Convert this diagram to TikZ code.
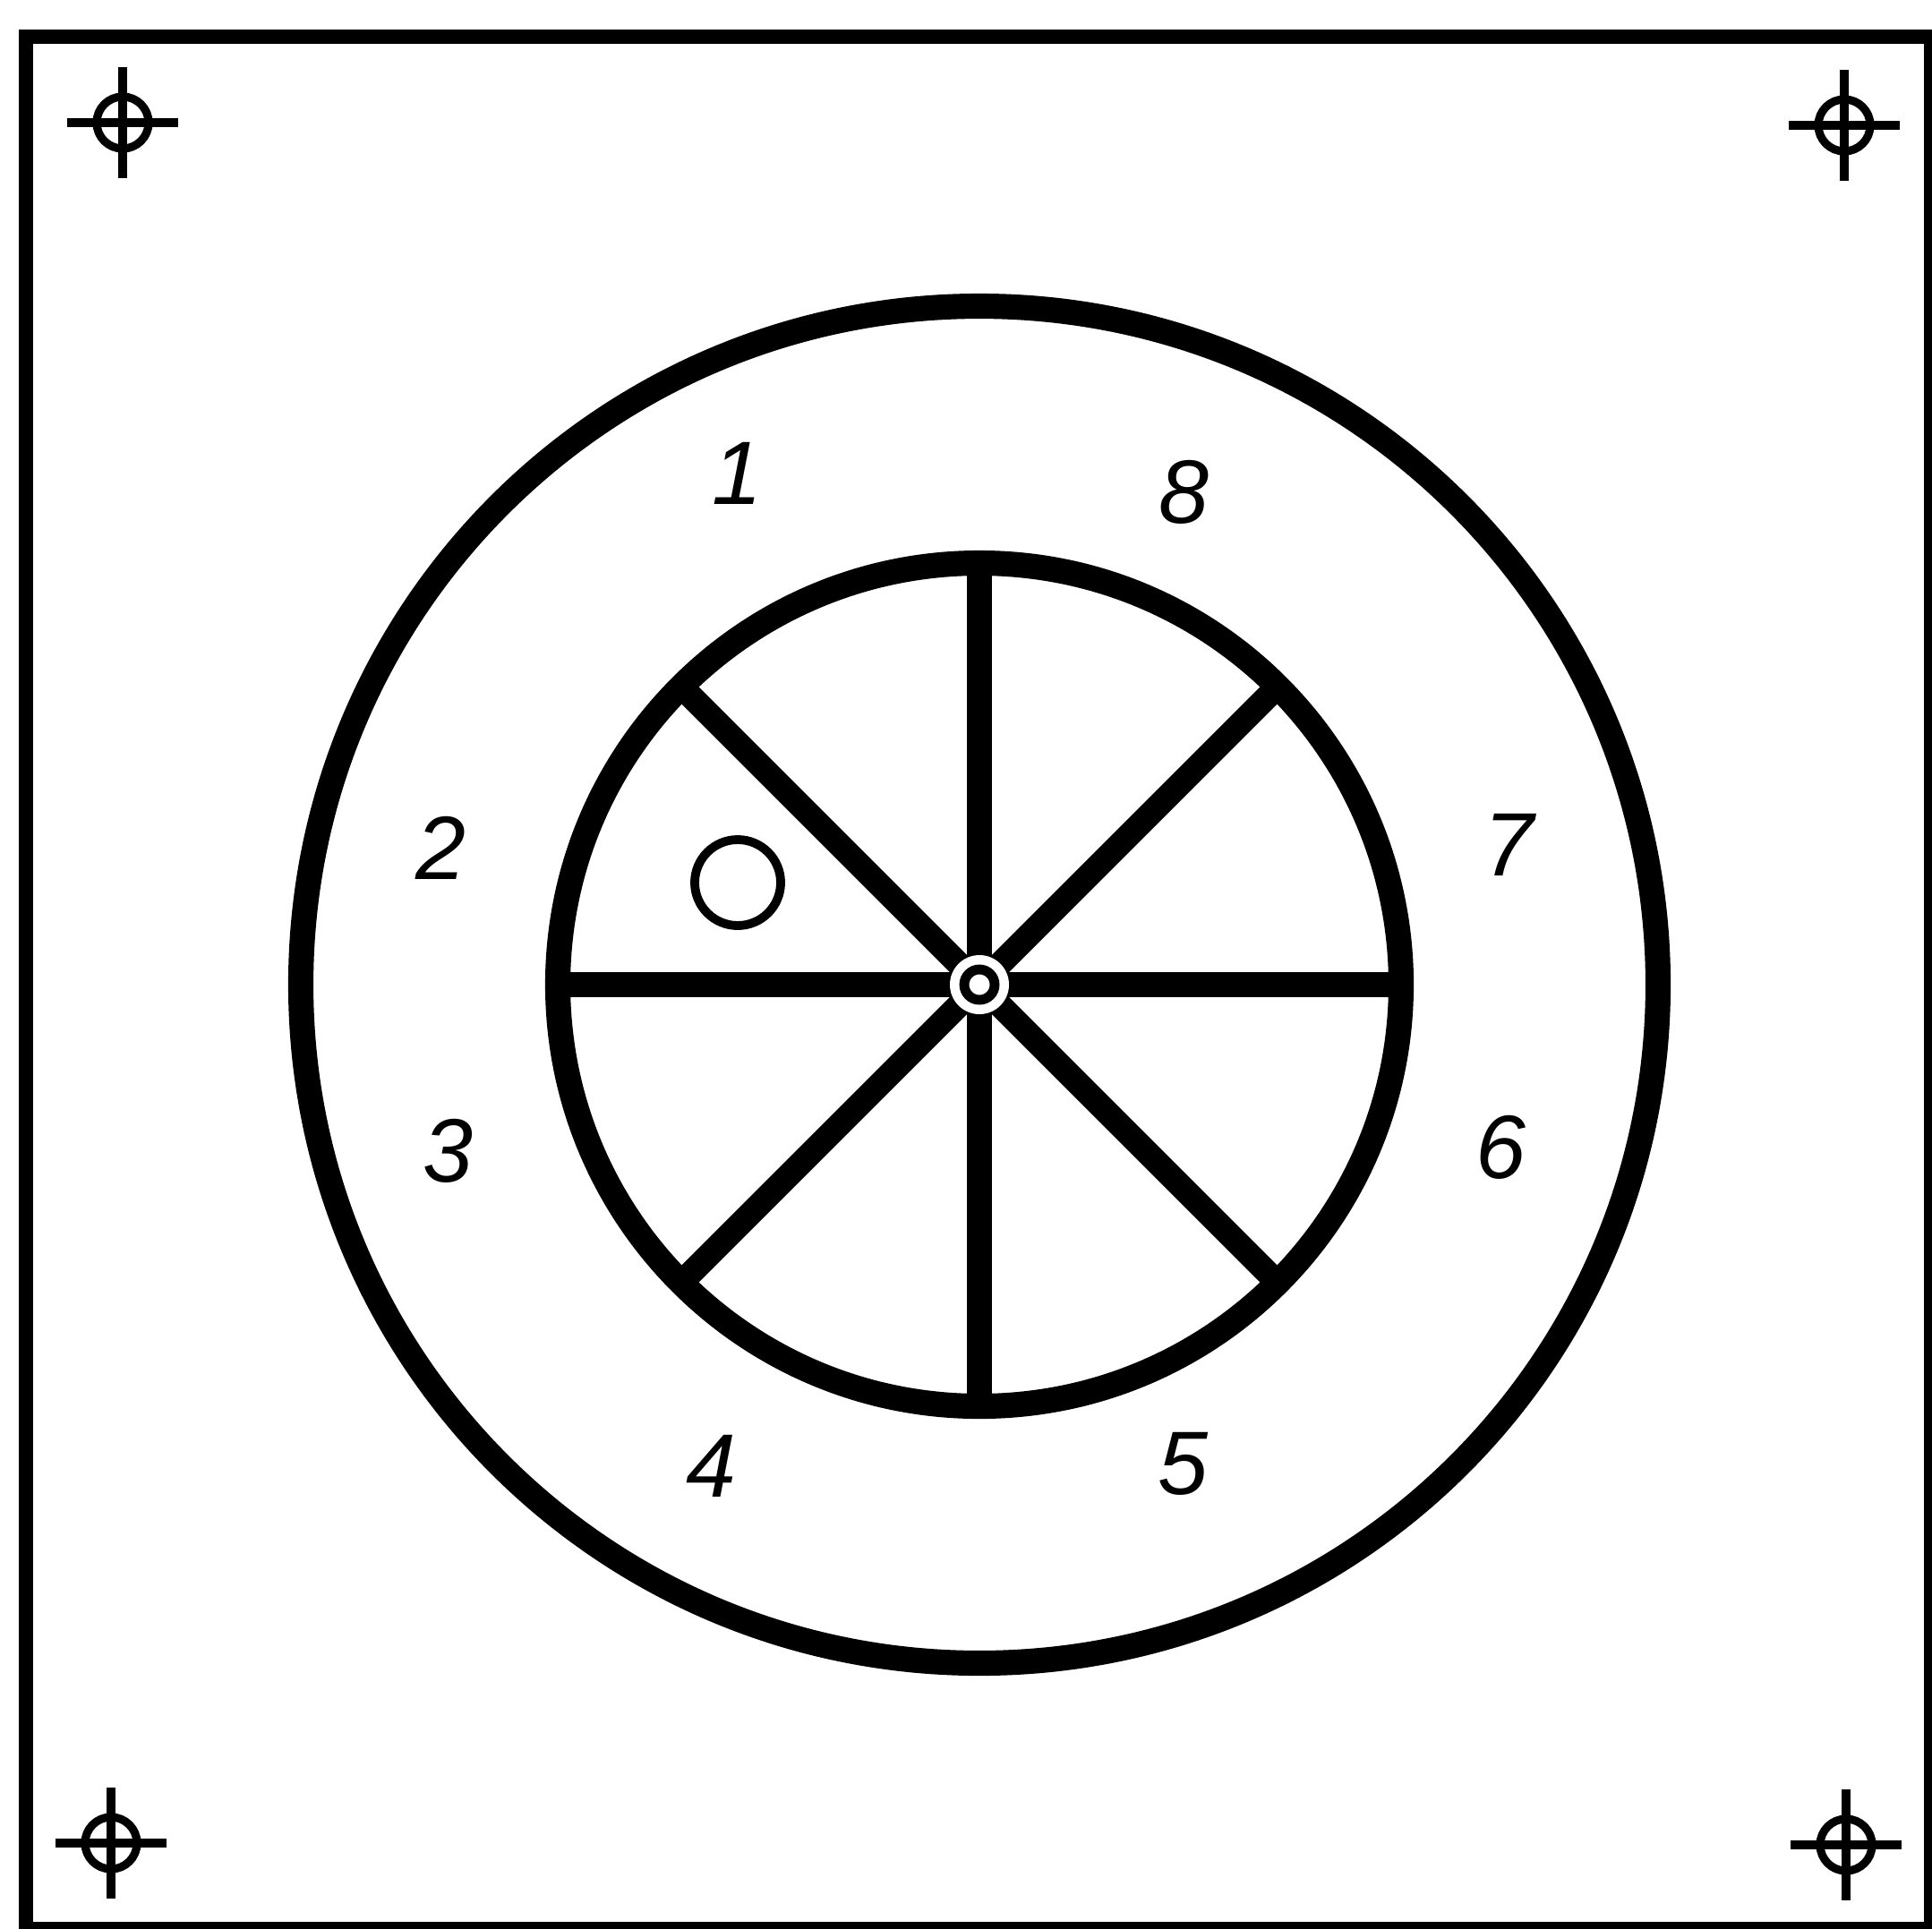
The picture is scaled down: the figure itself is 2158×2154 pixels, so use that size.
\documentclass[tikz,border=0pt]{standalone}
\usepackage{fontspec}
\setmainfont{Liberation Sans}
\usepackage{tikz}
\usetikzlibrary{calc}
\newcommand{\regmark}[1]{%
  \draw[regline] (#1) ++(-62,0) -- ++(124,0);
  \draw[regline] (#1) ++(0,-62) -- ++(0,124);
  \draw[regline] (#1) circle (29);}

\begin{document}
\begin{tikzpicture}[x=0.01cm,y=-0.01cm,
      frameline/.style={line width=4.3pt},
      ringline/.style={line width=8pt},
      spokeline/.style={line width=7.7pt},
      regline/.style={line width=2.6pt},
      thinring/.style={line width=2.8pt},
      num/.style={font=\fontsize{28.6}{30}\selectfont\itshape,inner sep=0pt}]
    \useasboundingbox (0,0) rectangle (2158,2154);
    \draw[frameline] (29,41) rectangle (2157,2155);
    % registration marks
    \coordinate (rtl) at (137,137);
    \coordinate (rtr) at (2060,140);
    \coordinate (rbl) at (124,2059);
    \coordinate (rbr) at (2062,2061);
    \regmark{rtl}
    \regmark{rtr}
    \regmark{rbl}
    \regmark{rbr}
    % wheel
    \coordinate (hub) at (1094,1100);
    \draw[ringline] (hub) circle (758);
    \draw[ringline] (hub) circle (471);
    \draw[spokeline] ($(hub)+(0:471)$) -- ($(hub)+(180:471)$);
    \draw[spokeline] ($(hub)+(45:471)$) -- ($(hub)+(225:471)$);
    \draw[spokeline] ($(hub)+(90:471)$) -- ($(hub)+(270:471)$);
    \draw[spokeline] ($(hub)+(135:471)$) -- ($(hub)+(315:471)$);
    \fill[white] (hub) circle (33);
    \draw[line width=3.1pt] (hub) circle (17);
    \draw[thinring] (824,986) circle (48);
    % sector numbers
    \node[num] (n1) at (823,529) {1};
    \node[num] (n2) at (492,947) {2};
    \node[num] (n3) at (500,1286) {3};
    \node[num] (n4) at (794,1638) {4};
    \node[num] (n5) at (1321,1635) {5};
    \node[num] (n6) at (1676,1282) {6};
    \node[num] (n7) at (1685,944) {7};
    \node[num] (n8) at (1322,550) {8};
  \end{tikzpicture}
\end{document}
